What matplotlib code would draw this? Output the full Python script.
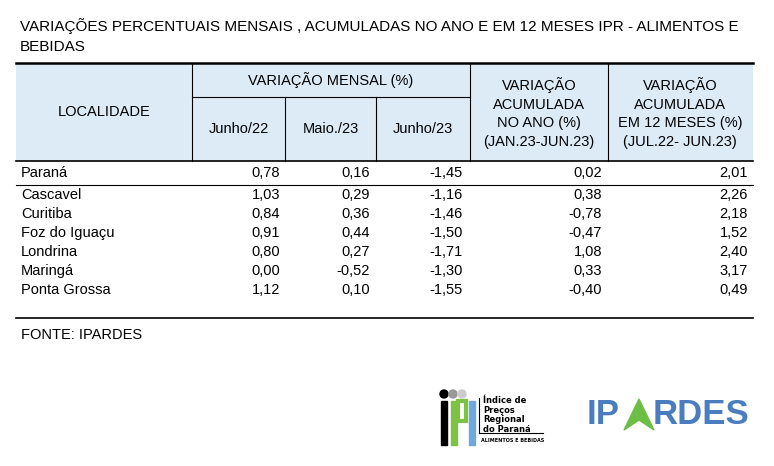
import matplotlib.pyplot as plt
from matplotlib.patches import Rectangle, Circle, Polygon

plt.rcParams['font.family'] = ['Liberation Sans', 'DejaVu Sans']

localidades = ['Paraná', 'Cascavel', 'Curitiba', 'Foz do Iguaçu', 'Londrina', 'Maringá', 'Ponta Grossa']
junho22 = ['0,78', '1,03', '0,84', '0,91', '0,80', '0,00', '1,12']
maio23 = ['0,16', '0,29', '0,36', '0,44', '0,27', '-0,52', '0,10']
junho23 = ['-1,45', '-1,16', '-1,46', '-1,50', '-1,71', '-1,30', '-1,55']
acum_ano = ['0,02', '0,38', '-0,78', '-0,47', '1,08', '0,33', '-0,40']
acum_12m = ['2,01', '2,26', '2,18', '1,52', '2,40', '3,17', '0,49']

W, H = 774, 466
fig = plt.figure(figsize=(W / 100, H / 100), dpi=100)
ax = fig.add_axes([0, 0, 1, 1])
ax.set_xlim(0, W)
ax.set_ylim(H, 0)
ax.axis('off')

fs = 10.5
ax.text(20, 26, 'VARIAÇÕES PERCENTUAIS MENSAIS , ACUMULADAS NO ANO E EM 12 MESES IPR - ALIMENTOS E',
        fontsize=11, va='center')
ax.text(20, 47, 'BEBIDAS', fontsize=11, va='center')

# header
left, right = 16, 753
ax.add_patch(Rectangle((left, 63), right - left, 98, color='#DDEBF7', lw=0))
ax.plot([left, right], [63, 63], color='black', lw=1.8)
ax.plot([left, right], [161, 161], color='black', lw=1.2)
ax.plot([192, 470], [97, 97], color='black', lw=0.8)
for x in [192, 470, 608]:
    ax.plot([x, x], [63, 161], color='black', lw=0.8)
for x in [285, 376]:
    ax.plot([x, x], [97, 161], color='black', lw=0.8)

ax.text(104, 112, 'LOCALIDADE', fontsize=fs, ha='center', va='center')
ax.text(331, 80, 'VARIAÇÃO MENSAL (%)', fontsize=fs, ha='center', va='center')
for (a, b), lab in zip([(192, 285), (285, 376), (376, 470)], ['Junho/22', 'Maio./23', 'Junho/23']):
    ax.text((a + b) / 2, 129, lab, fontsize=fs, ha='center', va='center')
ax.text(539, 113, 'VARIAÇÃO\nACUMULADA\nNO ANO (%)\n(JAN.23-JUN.23)', fontsize=fs,
        ha='center', va='center', linespacing=1.45)
ax.text(680, 113, 'VARIAÇÃO\nACUMULADA\nEM 12 MESES (%)\n(JUL.22- JUN.23)', fontsize=fs,
        ha='center', va='center', linespacing=1.45)

# body
rows_y = [173, 195, 214, 233, 252, 271, 290]
xr = [280, 370, 463, 602, 748]
for i, y in enumerate(rows_y):
    ax.text(21, y, localidades[i], fontsize=fs, va='center')
    for x, col in zip(xr, [junho22, maio23, junho23, acum_ano, acum_12m]):
        ax.text(x, y, col[i], fontsize=fs, ha='right', va='center')
ax.plot([left, right], [185, 185], color='black', lw=0.8)
ax.plot([left, right], [318, 318], color='black', lw=1.2)
ax.text(21, 335, 'FONTE: IPARDES', fontsize=fs, va='center')

# ipr logo (approximation)
for cx, c in zip([444, 453, 462], ['black', '#999999', '#cccccc']):
    ax.add_patch(Circle((cx, 394), 4, color=c))
ax.add_patch(Rectangle((441, 401), 6, 44, color='black'))
ax.add_patch(Rectangle((451, 401), 6, 44, color='#7DC242'))
ax.add_patch(Rectangle((458, 401), 8, 20, facecolor='none', edgecolor='#7DC242', lw=3))
ax.add_patch(Rectangle((469, 401), 6, 44, color='#6FA8DC'))
ax.plot([479, 479], [398, 433], color='black', lw=0.8)
ax.plot([479, 543], [433, 433], color='black', lw=0.8)
ax.text(483, 415, 'Índice de\nPreços\nRegional\ndo Paraná', fontsize=6, fontweight='bold',
        va='center', linespacing=1.1, family=['DejaVu Sans'])
ax.text(481, 441, 'ALIMENTOS E BEBIDAS', fontsize=3.5, fontweight='bold', va='center', family=['DejaVu Sans'])

# IPARDES logo
ax.text(587, 414, 'IP', fontsize=25, fontweight='bold', color='#4A7CC0', va='center')
ax.text(653, 414, 'RDES', fontsize=25, fontweight='bold', color='#4A7CC0', va='center')
ax.add_patch(Polygon([[624, 430], [639, 399], [654, 430], [639, 420]], color='#6DBE45'))

fig.savefig('out.png', dpi=100)
